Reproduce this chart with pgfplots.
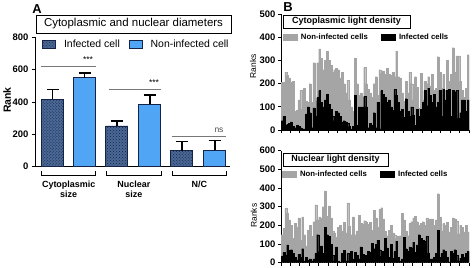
\documentclass[border=0pt]{standalone}
\usepackage{fontspec}
\setmainfont{Liberation Sans}
\usepackage{pgfplots}
\pgfplotsset{compat=1.18}
\usepackage{pgfplotstable}
\usetikzlibrary{patterns}
\definecolor{bgrey}{RGB}{165,165,165}
\definecolor{lblue}{RGB}{80,165,245}
\definecolor{dblue}{RGB}{75,105,150}
\definecolor{navy}{RGB}{20,35,70}
\definecolor{sigline}{RGB}{120,120,120}

\pgfplotstableread[row sep=\\]{
x g b\\
0 205 40\\ 1 205 60\\ 2 250 20\\ 3 235 25\\ 4 225 30\\ 5 205 35\\ 6 210 15\\ 7 80 10\\ 8 85 20\\ 9 130 15\\
10 170 10\\ 11 90 5\\ 12 180 5\\ 13 125 70\\ 14 120 100\\ 15 200 75\\ 16 120 10\\ 17 290 95\\ 18 125 60\\ 19 290 140\\
20 350 170\\ 21 310 120\\ 22 260 100\\ 23 300 130\\ 24 340 155\\ 25 300 110\\ 26 280 90\\ 27 250 60\\ 28 260 40\\ 29 265 80\\
30 260 75\\ 31 225 60\\ 32 250 35\\ 33 200 40\\ 34 160 35\\ 35 215 30\\ 36 130 15\\ 37 100 5\\ 38 80 15\\ 39 310 150\\
40 200 20\\ 41 150 100\\ 42 160 100\\ 43 140 100\\ 44 270 145\\ 45 200 100\\ 46 175 10\\ 47 160 30\\ 48 140 20\\ 49 200 75\\
50 230 10\\ 51 150 120\\ 52 260 5\\ 53 245 170\\ 54 255 155\\ 55 240 140\\ 56 265 120\\ 57 240 130\\ 58 235 100\\ 59 250 85\\
60 230 175\\ 61 340 150\\ 62 230 120\\ 63 225 80\\ 64 160 90\\ 65 125 55\\ 66 210 135\\ 67 160 80\\ 68 250 60\\ 69 200 100\\
70 130 65\\ 71 230 20\\ 72 185 90\\ 73 95 60\\ 74 245 90\\ 75 130 120\\ 76 210 170\\ 77 200 105\\ 78 230 180\\ 79 190 150\\
80 240 120\\ 81 170 155\\ 82 180 100\\ 83 316 120\\ 84 250 170\\ 85 180 60\\ 86 240 175\\ 87 170 130\\ 88 300 170\\ 89 210 175\\
90 240 60\\ 91 355 170\\ 92 250 165\\ 93 320 170\\ 94 320 50\\ 95 210 75\\ 96 170 130\\ 97 140 130\\ 98 180 80\\ 99 325 130\\
}\cyto

\pgfplotstableread[row sep=\\]{
x g b\\
0 150 35\\ 1 185 55\\ 2 290 40\\ 3 265 95\\ 4 230 65\\ 5 200 70\\ 6 130 50\\ 7 210 30\\ 8 190 15\\ 9 240 45\\
10 120 30\\ 11 245 75\\ 12 150 10\\ 13 90 30\\ 14 175 15\\ 15 200 20\\ 16 140 10\\ 17 220 20\\ 18 310 50\\ 19 230 150\\
20 245 60\\ 21 240 90\\ 22 300 50\\ 23 385 190\\ 24 250 150\\ 25 305 140\\ 26 240 100\\ 27 170 40\\ 28 160 10\\ 29 135 85\\
30 190 10\\ 31 200 5\\ 32 170 50\\ 33 215 65\\ 34 160 10\\ 35 320 50\\ 36 195 10\\ 37 150 60\\ 38 245 20\\ 39 150 55\\
40 170 40\\ 41 255 20\\ 42 210 85\\ 43 205 45\\ 44 225 40\\ 45 215 35\\ 46 205 60\\ 47 215 55\\ 48 175 105\\ 49 280 75\\
50 240 100\\ 51 190 120\\ 52 285 70\\ 53 295 35\\ 54 235 60\\ 55 170 130\\ 56 145 80\\ 57 175 30\\ 58 200 100\\ 59 160 25\\
60 150 60\\ 61 130 115\\ 62 140 30\\ 63 145 10\\ 64 265 20\\ 65 230 135\\ 66 170 75\\ 67 145 60\\ 68 210 85\\ 69 220 80\\
70 240 110\\ 71 250 55\\ 72 220 95\\ 73 200 150\\ 74 210 130\\ 75 220 120\\ 76 200 115\\ 77 240 140\\ 78 230 50\\ 79 235 20\\
80 235 20\\ 81 200 30\\ 82 230 50\\ 83 370 175\\ 84 245 30\\ 85 170 50\\ 86 210 70\\ 87 200 60\\ 88 215 30\\ 89 165 5\\
90 190 60\\ 91 240 50\\ 92 235 70\\ 93 225 40\\ 94 155 10\\ 95 200 25\\ 96 190 45\\ 97 165 30\\ 98 200 50\\ 99 165 60\\
}\nuc

\pgfplotsset{
  bstyle/.style={
    scale only axis, width=188bp,
    xmin=-0.5, xmax=99.5, ymin=0,
    axis x line*=bottom, axis y line*=left,
    axis line style={-, line width=1bp},
    xtick={-0.5,4.5,...,99.5}, xticklabels={},
    tick align=outside, major tick length=3bp,
    tick style={line width=0.8bp, black},
    /pgf/number format/assume math mode=true,
    yticklabel style={font=\bfseries\fontsize{9.5}{10}\selectfont, xshift=1bp},
    ylabel={Ranks},
    legend style={draw=none, fill=none, legend columns=2,
      font=\bfseries\fontsize{7.8}{8}\selectfont,
      /tikz/every even column/.append style={column sep=11bp}},
    legend image code/.code={\fill[##1] (0bp,-3bp) rectangle (14bp,3bp); \path (16bp,0bp);},
  },
  gbar/.style={ybar, bar width=1, bar shift=0pt, fill=bgrey, draw=bgrey, line width=0.2pt},
  kbar/.style={ybar, bar width=1, bar shift=0pt, fill=black, draw=black, line width=0.2pt},
}

\begin{document}
\begin{tikzpicture}
\useasboundingbox (0,0) rectangle (472bp,-268bp);

% ---------- Panel A ----------
\node[font=\bfseries\fontsize{13}{13}\selectfont] at (37bp,-9bp) {A};
\node[draw, line width=1bp, minimum width=195bp, minimum height=18bp, inner sep=1bp,
      font=\fontsize{11.5}{12}\selectfont] at (133.5bp,-24bp) {Cytoplasmic and nuclear diameters};

\begin{axis}[
  at={(35bp,-166.7bp)}, anchor=south west,
  scale only axis, width=195bp, height=129.4bp,
  xmin=35, xmax=230, ymin=0, ymax=800,
  axis x line*=bottom, axis y line*=left,
  axis line style={-, line width=1bp},
  xtick=\empty, ytick={0,200,400,600,800},
  tick align=outside, major tick length=3bp,
  tick style={line width=0.8bp, black},
  /pgf/number format/assume math mode=true,
  yticklabel style={font=\bfseries\fontsize{9.5}{10}\selectfont},
  ylabel={Rank},
  every axis y label/.style={at={(axis description cs:-0.143,0.515)}, rotate=90, anchor=center,
    font=\bfseries\fontsize{10.5}{11}\selectfont},
  clip=false,
  legend style={at={(0.52,0.948)}, anchor=center, draw=none, fill=none, legend columns=2,
    font=\fontsize{10.5}{11}\selectfont,
    /tikz/every even column/.append style={column sep=7bp}},
  legend image code/.code={\draw[#1] (0bp,-4bp) rectangle (13bp,4bp); \path (19bp,0bp);},
]
\addplot[ybar, bar width=22bp, bar shift=0pt, fill=dblue, draw=navy, line width=0.8bp,
  postaction={pattern=crosshatch dots, pattern color=navy},
  error bars/.cd, y dir=plus, y explicit,
  error bar style={line width=1.6bp, black},
  error mark options={rotate=90, mark size=6bp, line width=1.6bp, black}]
  coordinates {(52.5,418) +- (0,60) (116.8,252) +- (0,30) (181.8,100) +- (0,55)};
\addlegendentry{Infected cell}
\addplot[ybar, bar width=22bp, bar shift=0pt, fill=lblue, draw=navy, line width=0.8bp,
  error bars/.cd, y dir=plus, y explicit,
  error bar style={line width=1.6bp, black},
  error mark options={rotate=90, mark size=6bp, line width=1.6bp, black}]
  coordinates {(84.5,550) +- (0,30) (149.7,387) +- (0,55) (214.7,103) +- (0,58)};
\addlegendentry{Non-infected cell}

% significance lines
\draw[sigline, line width=0.8bp] (axis cs:40.7,618) -- (axis cs:95.7,618);
\draw[sigline, line width=0.8bp] (axis cs:109,478) -- (axis cs:161,478);
\draw[sigline, line width=0.8bp] (axis cs:171.7,190) -- (axis cs:226,190);
\node[font=\fontsize{8.5}{8}\selectfont, anchor=south] at (axis cs:88,620) {***};
\node[font=\fontsize{8.5}{8}\selectfont, anchor=south] at (axis cs:154,480) {***};
\node[font=\fontsize{8.5}{8}\selectfont, anchor=south, text=black!70] at (axis cs:219,192) {ns};

% group brackets
\draw[line width=1bp] (axis cs:41.7,-26) -- (axis cs:41.7,-57) -- (axis cs:95.7,-57) -- (axis cs:95.7,-26);
\draw[line width=1bp] (axis cs:106.7,-26) -- (axis cs:106.7,-57) -- (axis cs:161,-57) -- (axis cs:161,-26);
\draw[line width=1bp] (axis cs:172.7,-26) -- (axis cs:172.7,-57) -- (axis cs:226,-57) -- (axis cs:226,-26);
\node[font=\bfseries\fontsize{9}{10}\selectfont, align=center, anchor=north] at (axis cs:68.7,-68) {Cytoplasmic\\size};
\node[font=\bfseries\fontsize{9}{10}\selectfont, align=center, anchor=north] at (axis cs:133.8,-68) {Nuclear\\size};
\node[font=\bfseries\fontsize{9}{10}\selectfont, align=center, anchor=north] at (axis cs:199.4,-68) {N/C};
\end{axis}

% ---------- Panel B ----------
\node[font=\bfseries\fontsize{13}{13}\selectfont] at (288bp,-7.5bp) {B};

\begin{axis}[bstyle,
  at={(281bp,-130bp)}, anchor=south west, height=116bp,
  ymax=500, ytick={0,100,...,500},
  every axis y label/.style={at={(axis description cs:-0.149,0.55)}, rotate=90, anchor=center,
    font=\fontsize{8.5}{9}\selectfont},
  legend style={at={(0.455,0.80)}, anchor=center},
]
\addplot[gbar] table[x=x, y=g] {\cyto};
\addlegendentry{Non-infected cells}
\addplot[kbar] table[x=x, y=b] {\cyto};
\addlegendentry{Infected cells}
\end{axis}
\node[draw, line width=1bp, minimum width=127bp, minimum height=13bp, inner sep=1bp,
      font=\bfseries\fontsize{9}{10}\selectfont] at (346.5bp,-21.5bp) {Cytoplasmic light density};

\begin{axis}[bstyle,
  at={(281bp,-262.7bp)}, anchor=south west, height=112bp,
  ymax=600, ytick={0,100,...,600},
  every axis y label/.style={at={(axis description cs:-0.145,0.42)}, rotate=90, anchor=center,
    font=\fontsize{8.5}{9}\selectfont},
  legend style={at={(0.45,0.789)}, anchor=center},
]
\addplot[gbar] table[x=x, y=g] {\nuc};
\addlegendentry{Non-infected cells}
\addplot[kbar] table[x=x, y=b] {\nuc};
\addlegendentry{Infected cells}
\end{axis}
\node[draw, line width=1bp, minimum width=105bp, minimum height=13bp, inner sep=1bp,
      font=\bfseries\fontsize{9}{10}\selectfont] at (335.5bp,-159.5bp) {Nuclear light density};
\end{tikzpicture}
\end{document}
